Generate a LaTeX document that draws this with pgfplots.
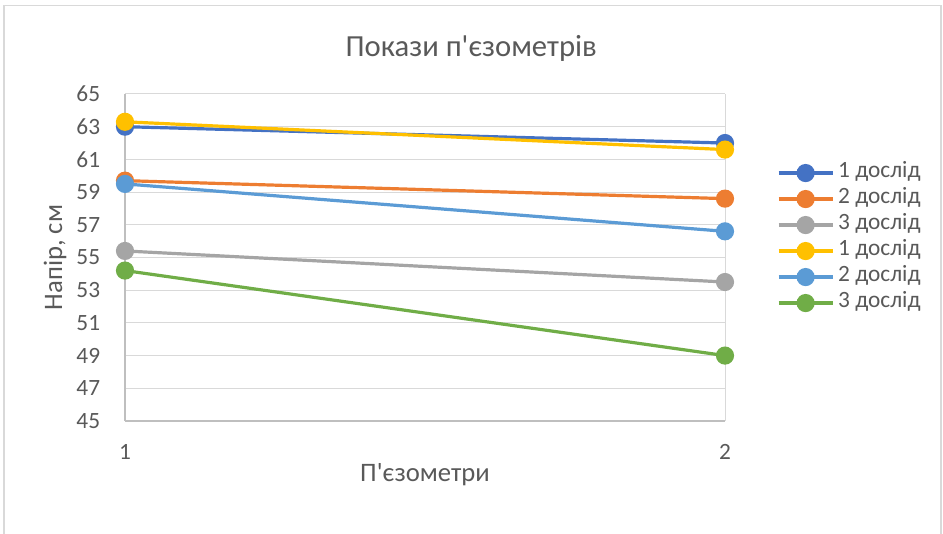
\documentclass[border=0pt]{standalone}
\usepackage{fontspec}
\setmainfont{Carlito}
\usepackage{pgfplots}
\pgfplotsset{compat=1.18}

\definecolor{txt}{HTML}{595959}
\definecolor{gridc}{HTML}{D9D9D9}
\definecolor{axc}{HTML}{BFBFBF}
\definecolor{s1}{HTML}{4472C4}
\definecolor{s2}{HTML}{ED7D31}
\definecolor{s3}{HTML}{A5A5A5}
\definecolor{s4}{HTML}{FFC000}
\definecolor{s5}{HTML}{5B9BD5}
\definecolor{s6}{HTML}{70AD47}

\begin{document}
\begin{tikzpicture}[x=0.75pt, y=0.75pt]
  % image is 943 x 534 px, 1 px = 0.75pt
  \useasboundingbox (0,0) rectangle (943,534);
  \draw[gridc, line width=1.1pt] (4,-20) -- (4,528.3) -- (941,528.3) -- (941,-20);

  \begin{axis}[
    at={(93.75pt,84.75pt)}, anchor=south west,
    scale only axis,
    width=450pt, height=245.25pt,
    xmin=1, xmax=2, ymin=45, ymax=65,
    xtick={1,2}, ytick={45,47,...,65},
    axis lines=left, axis line style={-, draw=axc, line width=0.8pt},
    grid=major, major grid style={gridc, line width=0.75pt},
    tick style={draw=none},
    /pgf/number format/assume math mode=true,
    ticklabel style={font=\fontsize{17.5}{21}\selectfont, text=txt},
    yticklabel style={xshift=-13pt},
    xticklabel style={yshift=-12pt},
    title={Покази п\textquotesingle єзометрів},
    title style={at={(axis description cs:0.577,1.116)}, anchor=center,
      font=\fontsize{23}{28}\selectfont, text=txt},
    xlabel={П\textquotesingle єзометри},
    xlabel style={at={(axis description cs:0.5,-0.165)}, anchor=center,
      font=\fontsize{20}{24}\selectfont, text=txt},
    ylabel={Напір, см},
    ylabel style={at={(axis description cs:-0.1167,0.5)}, anchor=center,
      font=\fontsize{20}{24}\selectfont, text=txt},
    every axis plot/.append style={line width=2.4pt, mark=*, mark size=5.6pt},
    legend image code/.code={
      \draw[mark repeat=2, mark phase=2] plot coordinates {(0pt,0pt) (20.25pt,0pt) (40.5pt,0pt)};
    },
    legend cell align=left,
    legend style={at={(axis description cs:1.0867,0.798)}, anchor=north west,
      draw=none, fill=none, inner sep=0pt, outer sep=0pt,
      font=\fontsize{17.5}{21}\selectfont, text=txt,
      nodes={inner sep=0pt, text height=13pt, text depth=6.5pt},
      /tikz/column sep=3pt},
  ]
    \addplot[s1, mark options={fill=s1}] coordinates {(1,63.0) (2,62.0)};
    \addlegendentry{1 дослід}
    \addplot[s2, mark options={fill=s2}] coordinates {(1,59.7) (2,58.6)};
    \addlegendentry{2 дослід}
    \addplot[s3, mark options={fill=s3}] coordinates {(1,55.4) (2,53.5)};
    \addlegendentry{3 дослід}
    \addplot[s4, mark options={fill=s4}] coordinates {(1,63.3) (2,61.6)};
    \addlegendentry{1 дослід}
    \addplot[s5, mark options={fill=s5}] coordinates {(1,59.5) (2,56.6)};
    \addlegendentry{2 дослід}
    \addplot[s6, mark options={fill=s6}] coordinates {(1,54.2) (2,49.0)};
    \addlegendentry{3 дослід}
  \end{axis}
\end{tikzpicture}
\end{document}
